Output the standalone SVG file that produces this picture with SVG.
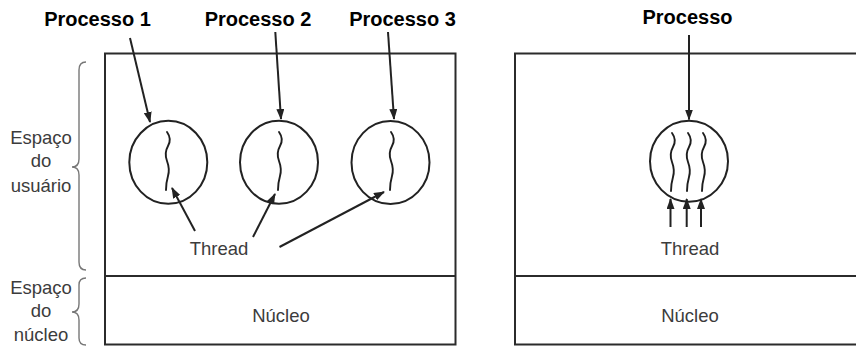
<svg xmlns="http://www.w3.org/2000/svg" xmlns:xlink="http://www.w3.org/1999/xlink" width="856" height="347" viewBox="0 0 856 347">
<style>
.box{fill:none;stroke:#2b2b2b;stroke-width:2}
.proc{fill:none;stroke:#222;stroke-width:2}
.wave{fill:none;stroke:#1e1e1e;stroke-width:1.9;stroke-linecap:round}
.arr{fill:none;stroke:#222;stroke-width:2;marker-end:url(#ah)}
.brace{fill:none;stroke:#777;stroke-width:1.4}
.title{font-family:"Liberation Sans",Arial,sans-serif;font-weight:bold;font-size:20px;fill:#000;text-anchor:middle}
.lbl{font-family:"Liberation Sans",Arial,sans-serif;font-size:18.5px;fill:#3c3c3c;text-anchor:middle}
</style>
<defs>
<marker id="ah" markerUnits="userSpaceOnUse" markerWidth="11" markerHeight="8" refX="10" refY="4" orient="auto">
<path d="M0,0 L11,4 L0,8 z" fill="#222"/>
</marker>
<path id="w" d="M0,0 q5,7 1,14 t-1,15 t1,15 t-2,14"/>
</defs>
<rect width="856" height="347" fill="#fff"/>

<g id="left-panel">
<rect class="box" x="105" y="53.5" width="350.5" height="291"/>
<line class="box" x1="105" y1="276" x2="455.5" y2="276"/>
</g>

<g id="right-panel">
<path class="box" d="M857,53.5 L515,53.5 L515,344.5 L857,344.5 M515,276 L857,276"/>
</g>

<g id="space-labels">
<path class="brace" d="M86,62 Q79,62 79,70 L79,159 Q79,167 72,167 Q79,167 79,175 L79,262 Q79,270 86,270"/>
<path class="brace" d="M86,278 Q79,278 79,285 L79,304 Q79,312 72,312 Q79,312 79,320 L79,338 Q79,345 86,345"/>
<text class="lbl" x="41" y="143.5">Espaço</text>
<text class="lbl" x="41" y="167">do</text>
<text class="lbl" x="41" y="191.5">usuário</text>
<text class="lbl" x="41" y="293.5">Espaço</text>
<text class="lbl" x="41" y="317">do</text>
<text class="lbl" x="41" y="340.5">núcleo</text>
</g>

<g id="processo1">
<text class="title" x="97.5" y="26">Processo 1</text>
<ellipse class="proc" cx="168.3" cy="162.3" rx="39" ry="41.5"/>
<use xlink:href="#w" href="#w" class="wave" x="167" y="132"/>
</g>

<g id="processo2">
<text class="title" x="258" y="26">Processo 2</text>
<ellipse class="proc" cx="279" cy="162.3" rx="39" ry="41.5"/>
<use xlink:href="#w" href="#w" class="wave" x="279" y="132"/>
</g>

<g id="processo3">
<text class="title" x="402.5" y="26">Processo 3</text>
<ellipse class="proc" cx="390.5" cy="162.5" rx="39" ry="41.5"/>
<use xlink:href="#w" href="#w" class="wave" x="391" y="132"/>
</g>

<g id="processo-right">
<text class="title" x="687.5" y="24">Processo</text>
<ellipse class="proc" cx="689" cy="161.2" rx="39" ry="40.5"/>
<use xlink:href="#w" href="#w" class="wave" x="672" y="133"/>
<use xlink:href="#w" href="#w" class="wave" x="688" y="133"/>
<use xlink:href="#w" href="#w" class="wave" x="703" y="133"/>
</g>

<g id="thread-left"><text class="lbl" x="219" y="255">Thread</text></g>
<g id="thread-right"><text class="lbl" x="690" y="255">Thread</text></g>
<g id="nucleo-left"><text class="lbl" x="281" y="322">Núcleo</text></g>
<g id="nucleo-right"><text class="lbl" x="690" y="322">Núcleo</text></g>

<g id="connectors">
<line class="arr" x1="130" y1="38" x2="150" y2="122"/>
<line class="arr" x1="275.3" y1="32" x2="281" y2="119"/>
<line class="arr" x1="388" y1="32" x2="394" y2="119"/>
<line class="arr" x1="689" y1="35" x2="689" y2="119.5"/>
<line class="arr" x1="195" y1="231" x2="172" y2="188"/>
<line class="arr" x1="253" y1="237" x2="275" y2="194"/>
<line class="arr" x1="279.5" y1="247" x2="384" y2="192"/>
<line class="arr" x1="670.5" y1="227" x2="670.5" y2="199"/>
<line class="arr" x1="686.7" y1="227" x2="686.7" y2="199"/>
<line class="arr" x1="701" y1="227" x2="701" y2="199"/>
</g>
</svg>
